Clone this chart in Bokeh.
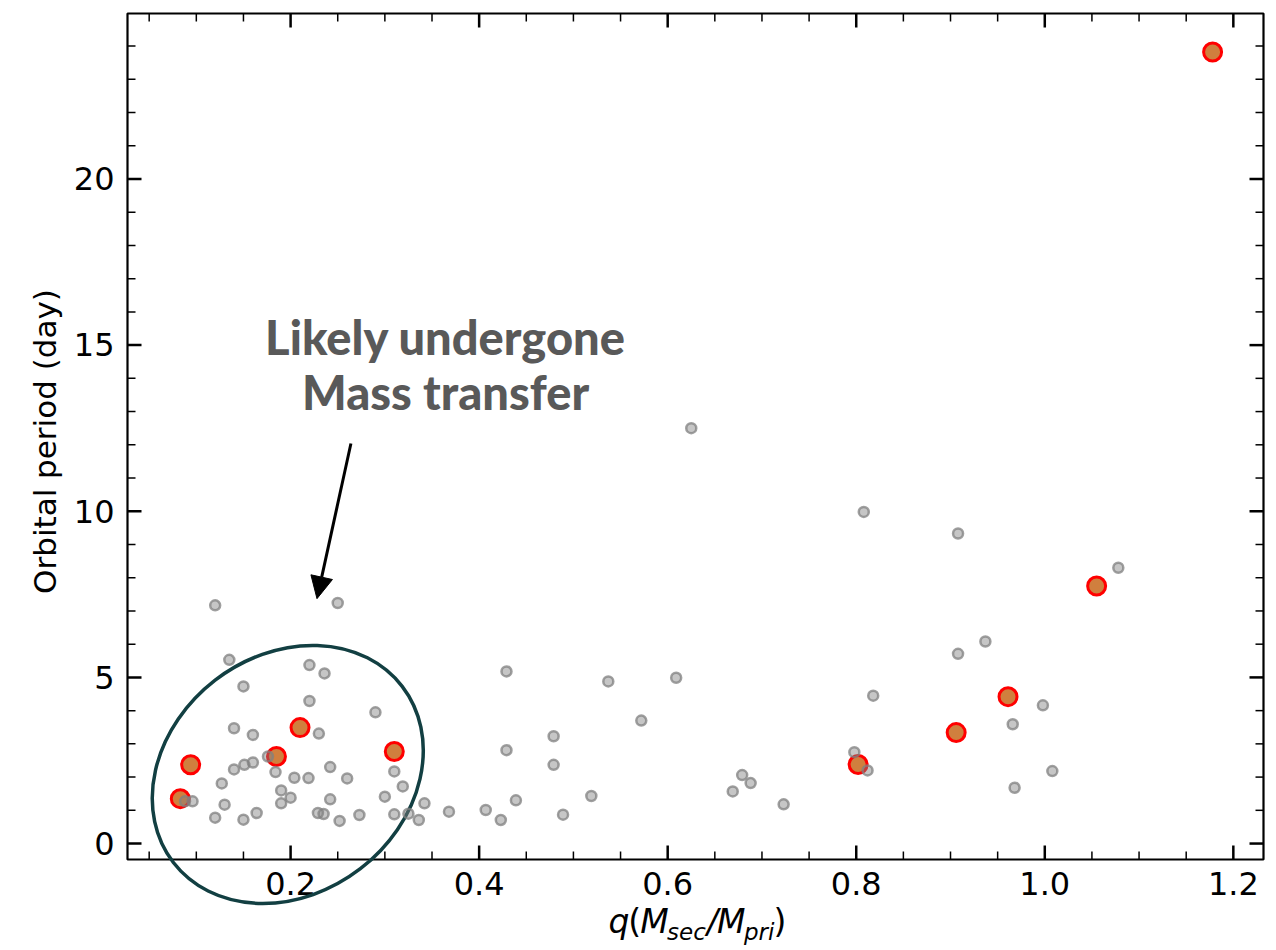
import numpy as np
from bokeh.plotting import figure
from bokeh.core.properties import value
from bokeh.models import Range1d, Arrow, NormalHead
from bokeh.embed import file_html
from bokeh.resources import INLINE

# ---------------- data ----------------
gray_q = [0.12, 0.25, 0.135, 0.22, 0.236, 0.15, 0.22, 0.29, 0.14, 0.16, 0.23, 0.16, 0.151, 0.14,
          0.176, 0.184, 0.242, 0.31, 0.127, 0.204, 0.219, 0.26, 0.19, 0.20, 0.19, 0.242, 0.319,
          0.30, 0.342, 0.096, 0.088, 0.13, 0.12, 0.164, 0.15, 0.229, 0.235, 0.252, 0.273, 0.31,
          0.325, 0.336, 0.368,
          0.429, 0.537, 0.609, 0.572, 0.479, 0.429, 0.479, 0.679, 0.688, 0.669, 0.723, 0.519,
          0.439, 0.407, 0.423, 0.489, 0.625,
          0.808, 0.908, 1.078, 0.937, 0.908, 0.818, 0.998, 0.966, 0.798, 0.812, 1.008, 0.968]
gray_p = [7.17, 7.24, 5.53, 5.37, 5.12, 4.73, 4.29, 3.95, 3.47, 3.27, 3.31, 2.44, 2.37, 2.23,
          2.62, 2.15, 2.30, 2.17, 1.81, 1.98, 1.97, 1.96, 1.60, 1.38, 1.21, 1.33, 1.72,
          1.41, 1.21, 1.27, 1.27, 1.17, 0.78, 0.92, 0.72, 0.92, 0.89, 0.68, 0.86, 0.88,
          0.90, 0.71, 0.96,
          5.18, 4.88, 4.99, 3.70, 3.23, 2.81, 2.37, 2.06, 1.82, 1.57, 1.18, 1.43,
          1.30, 1.01, 0.71, 0.87, 12.5,
          9.98, 9.33, 8.30, 6.08, 5.71, 4.45, 4.16, 3.59, 2.75, 2.20, 2.18, 1.68]

mt_q = [0.083, 0.094, 0.185, 0.21, 0.31, 0.802, 0.906, 0.961, 1.055, 1.178]
mt_p = [1.35, 2.37, 2.62, 3.49, 2.77, 2.38, 3.34, 4.42, 7.75, 23.82]

x_major = [0.2, 0.4, 0.6, 0.8, 1.0, 1.2]
x_minor = [round(0.05 * i, 2) for i in range(1, 25)]
y_major = [0, 5, 10, 15, 20]
y_minor = list(range(0, 25))

x_tick_labels = ["0.2", "0.4", "0.6", "0.8", "1.0", "1.2"]
y_tick_labels = ["0", "5", "10", "15", "20"]
y_title = "Orbital period (day)"
annot_lines = ["Likely undergone", "Mass transfer"]
x_label_pieces = ["q", "(", "M", "sec", "/", "M", "pri", ")"]

# ---------------- geometry (pixels of the axes box) ----------------
X0, X1 = 0.027, 1.232          # data x at left / right spine
YB, Y1 = -0.48, 24.98          # data y at bottom / top spine
AX_L, AX_T, AX_W, AX_H = 127, 13, 1136, 846   # axes box in canvas pixels
CW, CH = 1275, 948                             # canvas size
ppx = AX_W / (X1 - X0)
ppy = AX_H / (Y1 - YB)
XL = X0 - AX_L / ppx
XR = X1 + (CW - AX_L - AX_W) / ppx
YT = Y1 + AX_T / ppy
YBOT = YB - (CH - AX_T - AX_H) / ppy


def dx(px):
    return px / ppx


def dy(px):
    return px / ppy


p = figure(frame_width=CW, frame_height=CH,
           x_range=Range1d(XL, XR), y_range=Range1d(YBOT, YT),
           x_axis_location=None, y_axis_location=None,
           output_backend="svg", toolbar_location=None,
           min_border=0)
p.grid.visible = False
p.outline_line_color = None
p.background_fill_color = "white"
p.border_fill_color = "white"

MAJ_LEN, MIN_LEN = 14, 8
MAJ_W, MIN_W, SPINE_W = 2.5, 1.5, 2.2
BASE_FIX = 0.35   # baseline correction (em) for svg text placement

# ---------------- axes box & ticks ----------------
p.quad(left=[X0], right=[X1], bottom=[YB], top=[Y1], fill_color=None,
       line_color="black", line_width=SPINE_W)

xmin_in = [v for v in x_minor if X0 < v < X1 and v not in x_major]
ymin_in = [v for v in y_minor if YB < v < Y1 and v not in y_major]
for ticks, length, width in [(xmin_in, MIN_LEN, MIN_W), (x_major, MAJ_LEN, MAJ_W)]:
    n = len(ticks)
    p.segment(x0=ticks * 2, y0=[YB] * n + [Y1] * n, x1=ticks * 2,
              y1=[YB + dy(length)] * n + [Y1 - dy(length)] * n,
              line_color="black", line_width=width)
for ticks, length, width in [(ymin_in, MIN_LEN, MIN_W), (y_major, MAJ_LEN, MAJ_W)]:
    n = len(ticks)
    p.segment(x0=[X0] * n + [X1] * n, y0=ticks * 2,
              x1=[X0 + dx(length)] * n + [X1 - dx(length)] * n, y1=ticks * 2,
              line_color="black", line_width=width)

TICK_FS = 32
p.text(x=x_major, y=[YB - dy(35 - BASE_FIX * TICK_FS)] * len(x_major), text=x_tick_labels,
       text_align="center", text_baseline="alphabetic", text_font=value("DejaVu Sans"),
       text_font_size=f"{TICK_FS}px", text_color="black")
p.text(x=[X0 - dx(13)] * len(y_major), y=[v - dy(11 - BASE_FIX * TICK_FS) for v in y_major],
       text=y_tick_labels, text_align="right", text_baseline="alphabetic",
       text_font=value("DejaVu Sans"), text_font_size=f"{TICK_FS}px", text_color="black")

# y axis title (rotated)
YT_FS = 31
p.text(x=[XL + dx(55 - BASE_FIX * YT_FS)], y=[YB + dy(859 - 441)], text=[y_title], angle=np.pi / 2,
       text_align="center", text_baseline="alphabetic", text_font=value("DejaVu Sans"),
       text_font_size=f"{YT_FS}px", text_color="black")

# x axis title with subscripts
xc = (X0 + X1) / 2
offs = [-87, -67.3, -55.2, -28.4, 11.5, 21.5, 48.5, 78]
styles = ["italic", "normal", "italic", "italic", "italic", "italic", "italic", "normal"]
sizes = [33, 33, 33, 23, 33, 33, 23, 33]
drops = [74, 74, 74, 81, 74, 74, 81, 74]
for txt, xo, st, fs, dr in zip(x_label_pieces, offs, styles, sizes, drops):
    p.text(x=[xc + dx(xo)], y=[YB - dy(dr - BASE_FIX * fs)], text=[txt], text_align="left",
           text_baseline="alphabetic", text_font=value("DejaVu Sans"), text_font_style=st,
           text_font_size=f"{fs}px", text_color="black")

# ---------------- ellipse annotation ----------------
E_CQ, E_CP = 0.197, 2.08
p.ellipse(x=[E_CQ], y=[E_CP], width=288.8, height=238, angle=37.6, angle_units="deg",
          width_units="screen", height_units="screen",
          fill_color=None, line_color="#123f42", line_width=3.5)

# ---------------- points ----------------
p.scatter(mt_q, mt_p, size=18, fill_color="#d07f3e", line_color="red", line_width=3)
p.scatter(gray_q, gray_p, size=10, fill_color="gray", fill_alpha=0.45,
          line_color="gray", line_alpha=0.75, line_width=2.5)

# ---------------- arrow & text ----------------
p.add_layout(Arrow(end=NormalHead(size=22, fill_color="black", line_color="black"),
                   x_start=0.264, y_start=12.04, x_end=0.228, y_end=7.37,
                   line_width=3, line_color="black"))
ANN_FS = 47
p.text(x=[0.3644, 0.3644], y=[14.76 + dy(BASE_FIX * ANN_FS), 13.10 + dy(BASE_FIX * ANN_FS)],
       text=annot_lines, text_align="center", text_baseline="alphabetic",
       text_font=value("Lato Black"), text_font_style="bold", text_font_size=f"{ANN_FS}px",
       text_color="#595959")

open("out.html", "w").write(file_html(p, INLINE))
